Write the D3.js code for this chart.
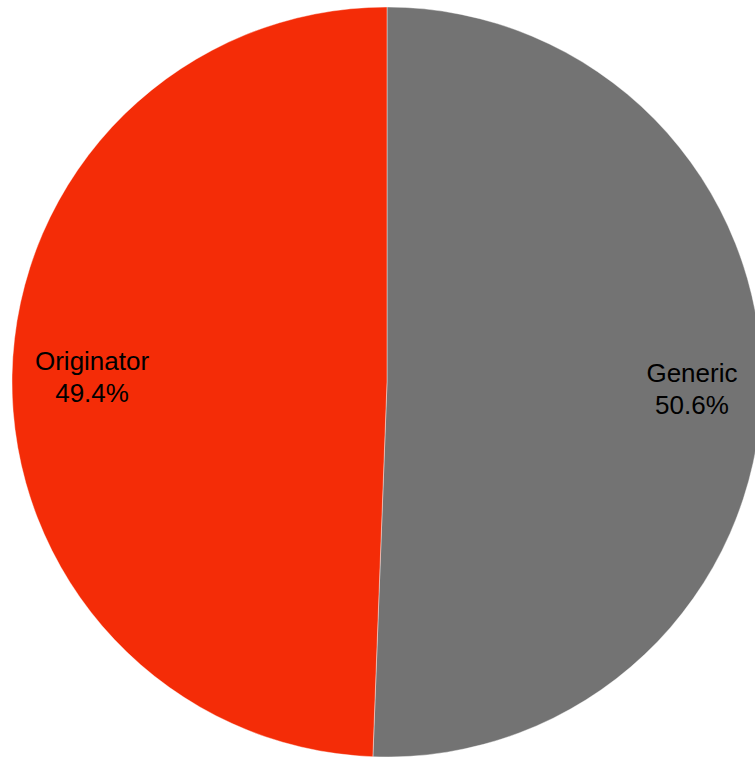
<!DOCTYPE html>
<html>
<head>
<meta charset="utf-8">
<script src="https://cdn.jsdelivr.net/npm/d3@7"></script>
<style>
  html, body { margin: 0; padding: 0; background: #ffffff; }
  svg { display: block; }
</style>
</head>
<body>
<svg id="chart" width="755" height="757"></svg>
<script>
const categories = ["Generic", "Originator"];
const values = [50.6, 49.4];
const colors = ["#737373", "#F42C07"];

const svg = d3.select("#chart");
const cx = 387, cy = 382, r = 375;
const g = svg.append("g").attr("transform", `translate(${cx},${cy})`);

const pie = d3.pie().sort(null).value(d => d.value);
const data = categories.map((c, i) => ({ name: c, value: values[i], color: colors[i] }));
const arcs = pie(data);

const arc = d3.arc().innerRadius(0).outerRadius(r);
const labelArc = d3.arc().innerRadius(r * 0.8).outerRadius(r * 0.8);

g.selectAll("path.slice")
  .data(arcs)
  .enter().append("path")
  .attr("class", "slice")
  .attr("d", arc)
  .attr("fill", d => d.data.color)
  .attr("stroke", "#ffffff")
  .attr("stroke-width", 0.4);

const labels = g.selectAll("text.lbl")
  .data(arcs)
  .enter().append("text")
  .attr("class", "lbl")
  .attr("transform", d => {
    const [x, y] = labelArc.centroid(d);
    return `translate(${x + 5},${y})`;
  })
  .attr("text-anchor", "middle")
  .attr("font-family", "'Liberation Sans', Arial, sans-serif")
  .attr("font-size", 26)
  .attr("fill", "#000000");

labels.append("tspan")
  .attr("x", 0)
  .attr("y", -6)
  .text(d => d.data.name);
labels.append("tspan")
  .attr("x", 0)
  .attr("y", 26)
  .text(d => d3.format(".1f")(d.data.value) + "%");
</script>
</body>
</html>
